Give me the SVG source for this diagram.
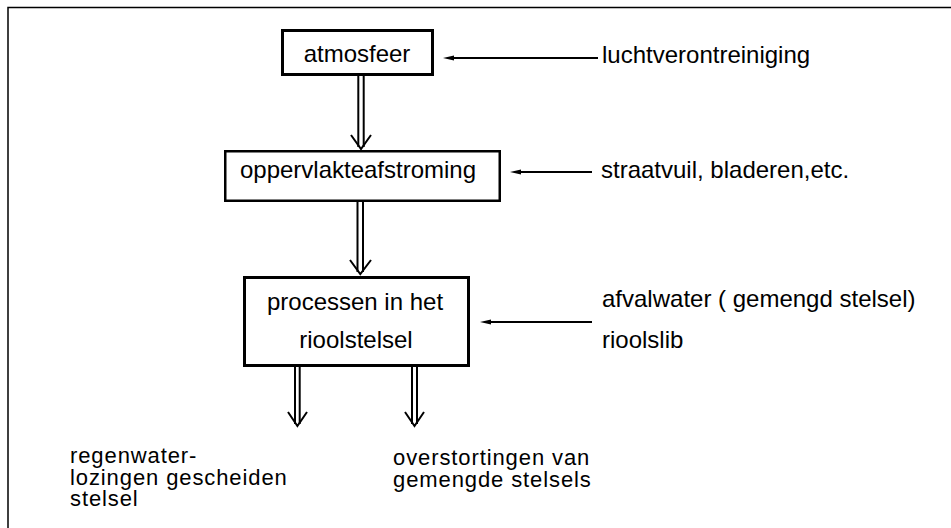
<svg xmlns="http://www.w3.org/2000/svg" width="951" height="528" viewBox="0 0 951 528">
<style>
  .bg { fill: #ffffff; }
  .frame { fill: none; stroke: #000; stroke-width: 1.5; }
  .box { fill: #ffffff; stroke: #000; stroke-width: 3; }
  .t { font-family: "Liberation Sans", Arial, sans-serif; font-size: 24px; fill: #000; }
  .s { font-size: 22px; letter-spacing: 0.9px; }
  .c { text-anchor: middle; }
  .ln { fill: none; stroke: #000; stroke-width: 1.8; }
  .dl { fill: none; stroke: #000; stroke-width: 2; }
  .v { fill: none; stroke: #000; stroke-width: 2; stroke-linejoin: miter; }
</style>
<defs>
  <marker id="ah" viewBox="0 0 11 6" refX="0" refY="3" markerWidth="11" markerHeight="6" markerUnits="userSpaceOnUse" orient="auto">
    <path d="M0,0.5 L11,3 L0,5.5 Z" fill="#000"/>
  </marker>
</defs>
<rect class="bg" x="0" y="0" width="951" height="528"/>
<path class="frame" d="M8,528 L8,7.5 L951,7.5"/>

<g id="atmosfeer">
  <rect class="box" x="282.5" y="30.5" width="150" height="44"/>
  <text class="t c" x="357" y="62">atmosfeer</text>
</g>
<g id="oppervlakteafstroming">
  <rect class="box" x="225.25" y="151.25" width="274.5" height="49.5" style="stroke-width:2.5"/>
  <text class="t c" x="358" y="178">oppervlakteafstroming</text>
</g>
<g id="riool">
  <rect class="box" x="244.5" y="277.5" width="224" height="88"/>
  <text class="t c" x="355" y="310">processen in het</text>
  <text class="t c" x="356" y="348">rioolstelsel</text>
</g>
<g id="lucht">
  <text class="t" x="602" y="63">luchtverontreiniging</text>
</g>
<g id="straatvuil">
  <text class="t" x="601" y="178">straatvuil, bladeren,etc.</text>
</g>
<g id="afvalwater">
  <text class="t" x="602" y="307">afvalwater ( gemengd stelsel)</text>
  <text class="t" x="602" y="348">rioolslib</text>
</g>
<g id="regenwater">
  <text class="t s" x="70" y="463">regenwater-</text>
  <text class="t s" x="70" y="485">lozingen gescheiden</text>
  <text class="t s" x="70" y="506">stelsel</text>
</g>
<g id="overstortingen">
  <text class="t s" x="393" y="465">overstortingen van</text>
  <text class="t s" x="393" y="487">gemengde stelsels</text>
</g>

<g id="connectors">
  <line class="ln" x1="598" y1="58" x2="454" y2="58" marker-end="url(#ah)"/>
  <line class="ln" x1="592" y1="172" x2="521" y2="172" marker-end="url(#ah)"/>
  <line class="ln" x1="592" y1="322" x2="491" y2="322" marker-end="url(#ah)"/>

  <line class="dl" x1="358.3" y1="76" x2="358.3" y2="147"/>
  <line class="dl" x1="363.7" y1="76" x2="363.7" y2="147"/>
  <polyline class="v" points="351,135 361,149 371,135"/>

  <line class="dl" x1="357.5" y1="202" x2="357.5" y2="272"/>
  <line class="dl" x1="363" y1="202" x2="363" y2="272"/>
  <polyline class="v" points="350,260 360.3,274 371,260"/>

  <line class="dl" x1="295" y1="367" x2="295" y2="424"/>
  <line class="dl" x1="299.7" y1="367" x2="299.7" y2="424"/>
  <polyline class="v" points="288,412 297.4,426 307,412"/>

  <line class="dl" x1="412" y1="367" x2="412" y2="424"/>
  <line class="dl" x1="417" y1="367" x2="417" y2="424"/>
  <polyline class="v" points="405,412 414.5,426 424,412"/>
</g>
</svg>
